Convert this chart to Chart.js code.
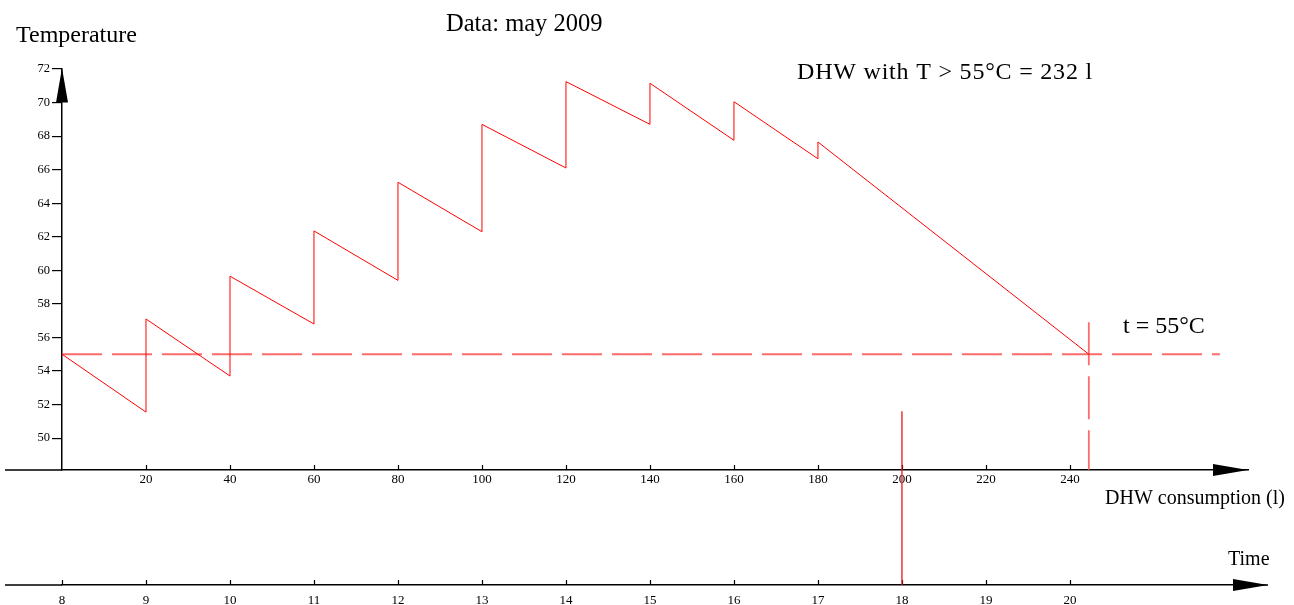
<!DOCTYPE html>
<html>
<head>
<meta charset="utf-8">
<script src="https://cdn.jsdelivr.net/npm/chart.js@4/dist/chart.umd.min.js"></script>
<style>
  html, body { margin: 0; padding: 0; background: #ffffff; }
  #wrap { position: relative; width: 1294px; height: 605px; }
</style>
</head>
<body>
<div id="wrap"><canvas id="c" width="1294" height="605"></canvas></div>
<script>
// ---- data ----
const consumption = [0, 20, 20, 40, 40, 60, 60, 80, 80, 100, 100, 120, 120, 140, 140, 160, 160, 180, 180, 244.5];
const temperature = [55, 51.55, 57.1, 53.7, 59.65, 56.8, 62.35, 59.4, 65.25, 62.3, 68.7, 66.1, 71.25, 68.7, 71.15, 67.75, 70.05, 66.65, 67.65, 55];
const thresholdX = [0, 275.7];
const thresholdY = [55, 55];
const crossingX = [244.5, 244.5];
const crossingY = [56.9, 48.1];
const markerConsumption = 200;
const markerTop = 51.6;
const consumptionTicks = [20, 40, 60, 80, 100, 120, 140, 160, 180, 200, 220, 240];
const temperatureTicks = [50, 52, 54, 56, 58, 60, 62, 64, 66, 68, 70, 72];
const timeTicks = [8, 9, 10, 11, 12, 13, 14, 15, 16, 17, 18, 19, 20];
const xRange = [0, 282.4];
const yRange = [48.1, 72];
const timeRange = [8, 8 + 282.4 / 20];

const SERIF = '"Liberation Serif", "Times New Roman", serif';

function pts(xs, ys) { return xs.map((x, i) => ({ x: x, y: ys[i] })); }

const decor = {
  id: 'decor',
  afterDraw(chart) {
    const ctx = chart.ctx;
    const xs = chart.scales.x, ys = chart.scales.y, ts = chart.scales.t;
    const ca = chart.chartArea;
    const axY = ca.bottom;
    const tY = ts.top;
    ctx.save();
    ctx.strokeStyle = '#000';
    ctx.fillStyle = '#000';
    ctx.lineWidth = 1.5;
    // x-axis extensions
    ctx.beginPath();
    ctx.moveTo(5, axY); ctx.lineTo(ca.left, axY);
    ctx.moveTo(5, tY); ctx.lineTo(ca.left, tY);
    ctx.moveTo(ca.right, tY); ctx.lineTo(ca.right + 20, tY);
    ctx.stroke();
    // inward tick marks
    ctx.lineWidth = 1.2;
    ctx.beginPath();
    consumptionTicks.forEach(v => {
      const px = Math.round(xs.getPixelForValue(v)) + 0.5;
      ctx.moveTo(px, axY - 5); ctx.lineTo(px, axY);
    });
    timeTicks.forEach(v => {
      const px = Math.round(ts.getPixelForValue(v)) + 0.5;
      ctx.moveTo(px, tY - 5); ctx.lineTo(px, tY);
    });
    ctx.stroke();
    // arrows
    ctx.beginPath();
    const yl = ca.left;
    const yTop = ys.getPixelForValue(72) - 1;
    const yBase = ys.getPixelForValue(70);
    ctx.moveTo(yl, yTop); ctx.lineTo(yl - 6, yBase); ctx.lineTo(yl + 6, yBase); ctx.closePath();
    ctx.moveTo(ca.right, axY); ctx.lineTo(ca.right - 35, axY - 6); ctx.lineTo(ca.right - 35, axY + 6); ctx.closePath();
    ctx.moveTo(ca.right + 20, tY); ctx.lineTo(ca.right - 15, tY - 6); ctx.lineTo(ca.right - 15, tY + 6); ctx.closePath();
    ctx.fill();
    // red marker line at 200 l (18 h) down to the time axis
    ctx.strokeStyle = '#ee1111';
    ctx.lineWidth = 1.3;
    ctx.beginPath();
    const mx = xs.getPixelForValue(markerConsumption);
    ctx.moveTo(mx, ys.getPixelForValue(markerTop)); ctx.lineTo(mx, tY);
    ctx.stroke();
    // texts
    ctx.fillStyle = '#000';
    ctx.textBaseline = 'alphabetic';
    ctx.textAlign = 'left';
    ctx.font = '24px ' + SERIF;
    ctx.fillText('Temperature', 16, 42);
    ctx.fillText('t = 55°C', 1123, 333);
    ctx.font = '24.5px ' + SERIF;
    ctx.fillText('Data: may 2009', 446, 31);
    ctx.font = '24px ' + SERIF;
    if ('letterSpacing' in ctx) ctx.letterSpacing = '0.8px';
    ctx.fillText('DHW with T > 55°C = 232 l', 797, 79);
    if ('letterSpacing' in ctx) ctx.letterSpacing = '0px';
    ctx.font = '20px ' + SERIF;
    ctx.fillText('DHW consumption (l)', 1105, 504);
    ctx.fillText('Time', 1228, 565);
    ctx.restore();
  }
};

new Chart(document.getElementById('c'), {
  type: 'scatter',
  data: {
    datasets: [
      {
        data: pts(consumption, temperature),
        showLine: true, borderColor: '#ff0000', borderWidth: 1,
        pointRadius: 0, tension: 0
      },
      {
        data: pts(thresholdX, thresholdY),
        showLine: true, borderColor: 'rgba(255,70,70,0.8)', borderWidth: 1.8,
        borderDash: [40, 10], pointRadius: 0
      },
      {
        data: pts(crossingX, crossingY),
        showLine: true, borderColor: 'rgba(255,70,70,0.8)', borderWidth: 1.8,
        borderDash: [43, 11], pointRadius: 0
      }
    ]
  },
  options: {
    responsive: false,
    animation: false,
    events: [],
    layout: { padding: { top: 69, right: 46, left: 0, bottom: 0 } },
    plugins: { legend: { display: false }, tooltip: { enabled: false }, title: { display: false } },
    scales: {
      x: {
        type: 'linear', position: 'bottom', min: xRange[0], max: xRange[1], weight: 0,
        afterBuildTicks: s => { s.ticks = consumptionTicks.map(v => ({ value: v })); },
        afterFit: s => { s.height = 115; },
        grid: { drawOnChartArea: false, drawTicks: false },
        border: { display: true, color: '#000', width: 1.5 },
        ticks: { color: '#000', padding: 2, maxRotation: 0, autoSkip: false,
          font: { family: SERIF, size: 13 } }
      },
      t: {
        type: 'linear', position: 'bottom', min: timeRange[0], max: timeRange[1], weight: 1,
        afterBuildTicks: s => { s.ticks = timeTicks.map(v => ({ value: v })); },
        afterFit: s => { s.height = 20; },
        grid: { drawOnChartArea: false, drawTicks: false },
        border: { display: true, color: '#000', width: 1.5 },
        ticks: { color: '#000', padding: 8, maxRotation: 0, autoSkip: false,
          font: { family: SERIF, size: 13 } }
      },
      y: {
        type: 'linear', position: 'left', min: yRange[0], max: yRange[1],
        afterBuildTicks: s => { s.ticks = temperatureTicks.map(v => ({ value: v })); },
        afterFit: s => { s.width = 62; },
        grid: { drawOnChartArea: false, drawTicks: true, tickLength: 10, color: '#000', lineWidth: 1.2 },
        border: { display: true, color: '#000', width: 1.5 },
        ticks: { color: '#000', padding: 2, font: { family: SERIF, size: 12.5 } }
      }
    }
  },
  plugins: [decor]
});
</script>
</body>
</html>
